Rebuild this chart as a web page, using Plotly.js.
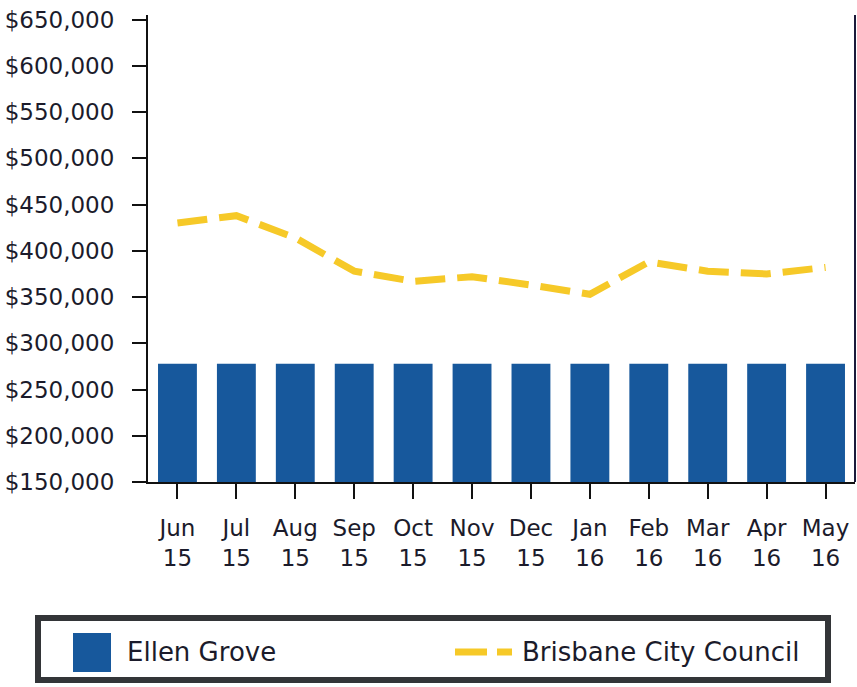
<!DOCTYPE html>
<html>
<head>
<meta charset="utf-8">
<script src="https://cdn.plot.ly/plotly-3.0.1.min.js"></script>
<style>
  html, body { margin: 0; padding: 0; background: #fff; }
  #chart { width: 857px; height: 687px; }
</style>
</head>
<body>
<div id="chart"></div>
<script>
// ---- data ----
const months = ["Jun<br>15", "Jul<br>15", "Aug<br>15", "Sep<br>15", "Oct<br>15", "Nov<br>15",
                "Dec<br>15", "Jan<br>16", "Feb<br>16", "Mar<br>16", "Apr<br>16", "May<br>16"];
const seriesNames = ["Ellen Grove", "Brisbane City Council"];
const ellenGrove = [278000, 278000, 278000, 278000, 278000, 278000,
                    278000, 278000, 278000, 278000, 278000, 278000];
const brisbane = [430000, 438000, 414000, 378000, 367000, 372000,
                  363000, 353000, 388000, 378000, 375000, 382000];
const yTicks = [150000, 200000, 250000, 300000, 350000, 400000, 450000, 500000, 550000, 600000, 650000];
const yTickText = ["$150,000", "$200,000", "$250,000", "$300,000", "$350,000", "$400,000",
                   "$450,000", "$500,000", "$550,000", "$600,000", "$650,000"];

// ---- style ----
const BLUE = "#17589c";
const GOLD = "#f6c928";
const INK = "#1b1b2b";
const FONT = "DejaVu Sans, Verdana, sans-serif";

// plot area in pixels (for placing the hand-built legend)
const L = 148, R = 855, T = 15, B = 482, W = 857, H = 687;
const px = x => (x - L) / (R - L);
const py = y => (B - y) / (B - T);

const traces = [
  {
    type: "bar",
    name: seriesNames[0],
    x: months,
    y: ellenGrove,
    marker: { color: BLUE, line: { width: 0 } },
    showlegend: false,
    hoverinfo: "x+y"
  },
  {
    type: "scatter",
    mode: "lines",
    name: seriesNames[1],
    x: months,
    y: brisbane,
    line: { color: GOLD, width: 7, dash: "30px,12px", shape: "linear" },
    showlegend: false
  }
];

const layout = {
  width: W,
  height: H,
  margin: { l: L, r: W - R, t: T, b: H - B },
  paper_bgcolor: "#ffffff",
  plot_bgcolor: "#ffffff",
  font: { family: FONT, color: INK },
  bargap: 0.34,
  showlegend: false,
  xaxis: {
    type: "category",
    range: [-0.5, 11.5],
    showline: true,
    linecolor: "#111",
    linewidth: 2,
    showgrid: false,
    zeroline: false,
    ticks: "outside",
    ticklen: 15,
    tickwidth: 2,
    tickcolor: "#111",
    ticklabelstandoff: 9,
    tickfont: { family: FONT, size: 23, color: INK }
  },
  yaxis: {
    range: [150000, 655000],
    tickmode: "array",
    tickvals: yTicks,
    ticktext: yTickText,
    showline: true,
    linecolor: "#111",
    linewidth: 2,
    showgrid: false,
    zeroline: false,
    ticks: "outside",
    ticklen: 14,
    tickwidth: 2,
    tickcolor: "#111",
    ticklabelstandoff: 13,
    tickfont: { family: FONT, size: 23, color: INK }
  },
  shapes: [
    // right frame line
    { type: "line", xref: "paper", yref: "paper", x0: 1, x1: 1, y0: 0, y1: 1,
      line: { color: "#1a1a3a", width: 2 } },
    // legend box
    { type: "rect", xref: "paper", yref: "paper",
      x0: px(38), x1: px(828), y0: py(680), y1: py(618),
      line: { color: "#333538", width: 6 }, fillcolor: "#ffffff" },
    // legend swatch: bar
    { type: "rect", xref: "paper", yref: "paper",
      x0: px(73), x1: px(111), y0: py(672), y1: py(633),
      line: { width: 0 }, fillcolor: BLUE },
    // legend swatch: dashed line
    { type: "line", xref: "paper", yref: "paper",
      x0: px(455), x1: px(512), y0: py(652), y1: py(652),
      line: { color: GOLD, width: 7, dash: "32px,10px" } }
  ],
  annotations: [
    { xref: "paper", yref: "paper", x: px(125), y: py(652), xanchor: "left", yanchor: "middle",
      text: seriesNames[0], showarrow: false, font: { family: FONT, size: 26, color: INK } },
    { xref: "paper", yref: "paper", x: px(520), y: py(652), xanchor: "left", yanchor: "middle",
      text: seriesNames[1], showarrow: false, font: { family: FONT, size: 26, color: INK } }
  ]
};

Plotly.newPlot("chart", traces, layout, { displayModeBar: false, staticPlot: true });
</script>
</body>
</html>
